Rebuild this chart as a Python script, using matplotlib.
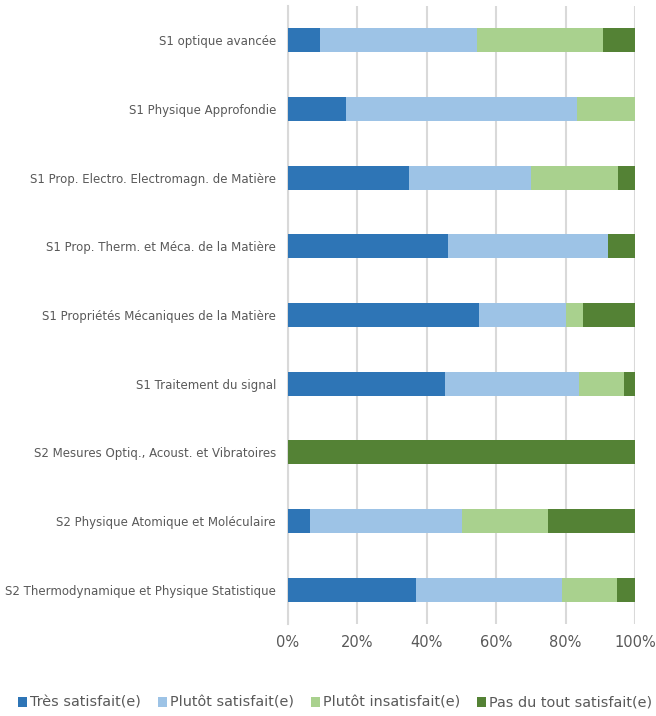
import matplotlib
matplotlib.use("Agg")
import matplotlib.pyplot as plt
import numpy as np

categories = [
    "S1 optique avancée",
    "S1 Physique Approfondie",
    "S1 Prop. Electro. Electromagn. de Matière",
    "S1 Prop. Therm. et Méca. de la Matière",
    "S1 Propriétés Mécaniques de la Matière",
    "S1 Traitement du signal",
    "S2 Mesures Optiq., Acoust. et Vibratoires",
    "S2 Physique Atomique et Moléculaire",
    "S2 Thermodynamique et Physique Statistique",
]
series_names = ["Très satisfait(e)", "Plutôt satisfait(e)",
                "Plutôt insatisfait(e)", "Pas du tout satisfait(e)"]
tres_satisfait = [9.1, 16.7, 35.0, 46.2, 55.0, 45.2, 0.0, 6.25, 36.8]
plutot_satisfait = [45.4, 66.6, 35.0, 46.1, 25.0, 38.7, 0.0, 43.75, 42.1]
plutot_insatisfait = [36.4, 16.7, 25.0, 0.0, 5.0, 12.9, 0.0, 25.0, 15.8]
pas_du_tout = [9.1, 0.0, 5.0, 7.7, 15.0, 3.2, 100.0, 25.0, 5.3]
xticks = [0, 20, 40, 60, 80, 100]

colors = ["#2E75B6", "#9DC3E6", "#A9D18E", "#548235"]

fig = plt.figure(figsize=(6.56, 7.16), dpi=100)
ax = fig.add_axes([288/656, 1-624/716, (635-288)/656, (624-6)/716])

data = np.array([tres_satisfait, plutot_satisfait, plutot_insatisfait, pas_du_tout])
totals = data.sum(axis=0)
data = data / totals * 100
y = np.arange(len(categories))
left = np.zeros(len(categories))
for vals, name, c in zip(data, series_names, colors):
    ax.barh(y, vals, left=left, height=0.354, color=c, label=name, zorder=3)
    left += vals

ax.set_ylim(len(categories) - 0.5, -0.5)
ax.set_xlim(0, 100)
ax.set_xticks(xticks)
ax.set_xticklabels([f"{t}%" for t in xticks], fontsize=10.5, color="#595959")
ax.set_yticks(y)
ax.set_yticklabels(categories, fontsize=8.5, color="#595959")
ax.tick_params(axis="y", length=0, pad=8.6)
ax.tick_params(axis="x", length=0, pad=8)
ax.xaxis.grid(True, color="#D9D9D9", linewidth=1.5, zorder=0)
for s in ["top", "right", "bottom"]:
    ax.spines[s].set_visible(False)
ax.spines["left"].set_color("#D9D9D9")
ax.spines["left"].set_linewidth(1.5)

fig.legend(loc="center", bbox_to_anchor=(335/656, 1-703/716), ncol=4, frameon=False,
           fontsize=10.4, handlelength=0.62, handleheight=0.62, handletextpad=0.2,
           columnspacing=1.2, labelcolor="#595959", borderpad=0)

fig.savefig("out.png", dpi=100)
